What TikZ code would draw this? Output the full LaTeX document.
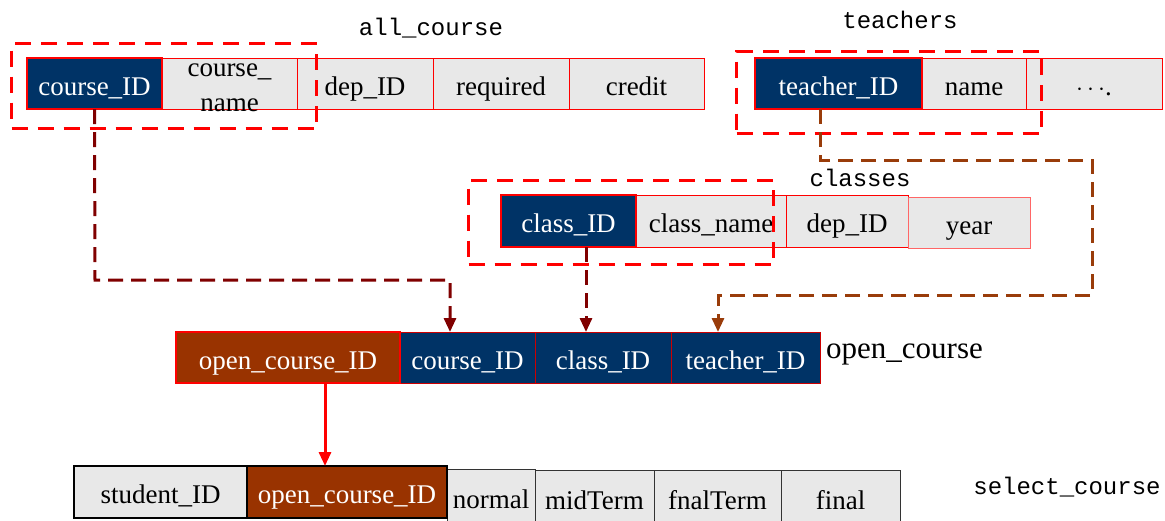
\documentclass[tikz,border=0pt]{standalone}
\usepackage{fontspec}
\setmainfont{Liberation Serif}
\setmonofont{Liberation Mono}
\usetikzlibrary{arrows.meta,calc}
\definecolor{navy}{RGB}{0,51,102}
\definecolor{rust}{RGB}{153,51,0}
\definecolor{cellgray}{RGB}{232,232,232}
\definecolor{connred}{RGB}{128,0,0}
\definecolor{connbrown}{RGB}{153,60,10}
\tikzset{
  cellbase/.style={anchor=north west, inner sep=0pt, outer sep=0pt,
    text height=23pt, text depth=0pt,
    font=\fontsize{27}{31}\selectfont},
  graycell/.style={cellbase, fill=cellgray, draw=red, line width=1pt, text=black},
  keycell/.style={cellbase, fill=navy, draw=red, line width=2.5pt, text=white},
  navycell/.style={cellbase, fill=navy, draw=red!80!black, line width=1pt, text=white},
  rustkey/.style={cellbase, fill=rust, draw=red, line width=2.5pt, text=white},
  rustblack/.style={cellbase, fill=rust, draw=black, line width=2.5pt, text=white},
  grayblackthick/.style={cellbase, fill=cellgray, draw=black, line width=2.5pt, text=black},
  grayblack/.style={cellbase, fill=cellgray, draw=black!80, line width=1pt, text=black},
  celltext/.style={inner sep=0pt, align=center, font=\fontsize{27}{35}\selectfont},
  keyframe/.style={draw=red, line width=3pt, dash pattern=on 16pt off 10pt},
  monolabel/.style={inner sep=0pt, font=\ttfamily\fontsize{24}{26}\selectfont},
  seriflabel/.style={inner sep=0pt, font=\fontsize{31}{33}\selectfont},
  linkred/.style={draw=connred, line width=3pt, dash pattern=on 15pt off 8pt,
    -{Triangle[width=12pt,length=14pt]}},
  linkbrown/.style={draw=connbrown, line width=3pt, dash pattern=on 15pt off 8pt,
    -{Triangle[width=12pt,length=14pt]}},
  linksolid/.style={draw=red, line width=3pt, -{Triangle[width=12pt,length=14pt]}},
}
\begin{document}
\begin{tikzpicture}[x=1pt,y=-1pt]
\useasboundingbox (0,0) rectangle (1165,520);
% ---------- all_course ----------
\node[monolabel] (lall) at (431,28) {all\_course};
\node[graycell, minimum width=135, minimum height=51] (acname) at (162,58) {};
\node[celltext, anchor=base] (acnametext) at (229.5,111) {course\_\\name};
\node[graycell, minimum width=136, minimum height=51] (acdep) at (297,58) {dep\_ID};
\node[graycell, minimum width=136, minimum height=51] (acreq) at (433,58) {required};
\node[graycell, minimum width=135, minimum height=51] (accred) at (569,58) {credit};
\node[keycell, minimum width=135, minimum height=51] (acid) at (27,58) {course\_ID};
\node[keyframe, draw, inner sep=0pt, anchor=north west, minimum width=305, minimum height=85, fill=none] (fall) at (10,42) {};
% ---------- teachers ----------
\node[monolabel] (lteach) at (900,20) {teachers};
\node[graycell, minimum width=104, minimum height=51] (tname) at (922,58) {name};
\node[graycell, minimum width=136, minimum height=51] (tmore) at (1026,58) {$\cdots$.};
\node[keycell, minimum width=167, minimum height=51] (tid) at (755,58) {teacher\_ID};
\node[keyframe, draw, inner sep=0pt, anchor=north west, minimum width=305, minimum height=82, fill=none] (fteach) at (735,50) {};
% ---------- classes ----------
\node[monolabel] (lclass) at (860,178) {classes};
\node[graycell, minimum width=150, minimum height=52] (clname) at (636,195) {class\_name};
\node[graycell, minimum width=122, minimum height=52] (cldep) at (786,195) {dep\_ID};
\node[graycell, draw=red!60, minimum width=122, minimum height=51] (clyear) at (908,197) {year};
\node[keycell, minimum width=135, minimum height=52] (clid) at (501,195) {class\_ID};
\node[keyframe, draw, inner sep=0pt, anchor=north west, minimum width=305, minimum height=84, fill=none] (fclass) at (467,179) {};
% ---------- open_course ----------
\node[navycell, minimum width=135, minimum height=51] (ocid) at (400,332) {course\_ID};
\node[navycell, minimum width=136, minimum height=51] (oclid) at (535,332) {class\_ID};
\node[navycell, minimum width=149, minimum height=51] (otid) at (671,332) {teacher\_ID};
\node[rustkey, minimum width=224, minimum height=51] (ooid) at (176,332) {open\_course\_ID};
\node[seriflabel, anchor=base west] (lopen) at (826,358) {open\_course};
% ---------- select_course ----------
\node[grayblack, minimum width=88, minimum height=56] (snorm) at (447,469) {normal};
\node[grayblack, minimum width=119, minimum height=56] (smid) at (535,470) {midTerm};
\node[grayblack, minimum width=127, minimum height=56] (sfnal) at (654,470) {fnalTerm};
\node[grayblack, minimum width=119, minimum height=56] (sfinal) at (781,470) {final};
\node[grayblackthick, minimum width=173, minimum height=52] (sstu) at (74,466) {student\_ID};
\node[rustblack, minimum width=200, minimum height=52] (soid) at (247,466) {open\_course\_ID};
\node[monolabel] (lsel) at (1067,487) {select\_course};
% ---------- connectors ----------
\coordinate (k1) at (95,280);
\draw[linkred] (acid.south) -- (k1) -| ([xshift=-17.5pt]ocid.north);
\draw[linkred] ([xshift=17.5pt]clid.south) -- ([xshift=-17pt]oclid.north);
\coordinate (k2) at (820,160);
\coordinate (k3) at (1092,160);
\coordinate (k4) at (1092,295);
\draw[linkbrown] ([xshift=-18.5pt]tid.south) -- (k2) -- (k3) -- (k4) -| ([xshift=-27.5pt]otid.north);
\draw[linksolid] ([xshift=37pt]ooid.south) -- ([xshift=-22pt]soid.north);
\end{tikzpicture}
\end{document}
